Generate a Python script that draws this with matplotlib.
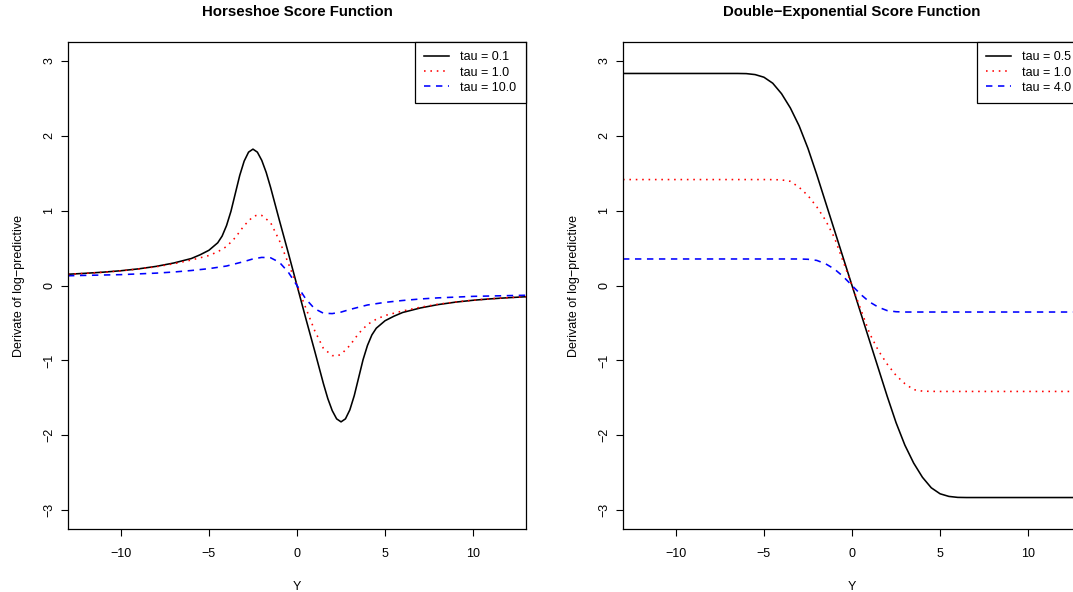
import matplotlib
matplotlib.use("Agg")
import matplotlib.pyplot as plt

plt.rcParams['font.family'] = ['Liberation Sans', 'DejaVu Sans']

# Horseshoe score function
hs_x_01 = [-13, -12, -11, -10, -9, -8, -7, -6, -5.5, -5, -4.5, -4.25, -4, -3.75, -3.5,
           -3.25, -3, -2.75, -2.5, -2.25, -2, -1.75, -1.5, -1, -0.5, 0, 0.5, 1, 1.5, 1.75,
           2, 2.25, 2.5, 2.75, 3, 3.25, 3.5, 3.75, 4, 4.25, 4.5, 5, 5.5, 6, 7, 8, 9, 10,
           11, 12, 13]
hs_y_01 = [0.15, 0.163, 0.178, 0.197, 0.222, 0.255, 0.30, 0.36, 0.41, 0.47, 0.57, 0.66,
           0.80, 0.99, 1.23, 1.47, 1.66, 1.78, 1.82, 1.78, 1.67, 1.51, 1.31, 0.87, 0.44,
           0.0, -0.44, -0.87, -1.31, -1.51, -1.67, -1.78, -1.82, -1.78, -1.66, -1.47,
           -1.23, -0.99, -0.80, -0.66, -0.57, -0.47, -0.41, -0.36, -0.30, -0.255, -0.222,
           -0.197, -0.178, -0.163, -0.15]

hs_x_1 = [-13, -12, -11, -10, -9, -8, -7, -6, -5, -4.5, -4, -3.5, -3, -2.5, -2.25, -2,
          -1.5, -1, -0.5, 0, 0.5, 1, 1.5, 2, 2.25, 2.5, 3, 3.5, 4, 4.5, 5, 6, 7, 8, 9,
          10, 11, 12, 13]
hs_y_1 = [0.15, 0.162, 0.177, 0.196, 0.22, 0.25, 0.29, 0.34, 0.40, 0.45, 0.52, 0.64,
          0.80, 0.92, 0.94, 0.935, 0.84, 0.60, 0.30, 0.0, -0.30, -0.60, -0.84, -0.935,
          -0.94, -0.92, -0.80, -0.64, -0.52, -0.45, -0.40, -0.34, -0.29, -0.25, -0.22,
          -0.196, -0.177, -0.162, -0.15]

hs_x_10 = [-13, -12, -11, -10, -9, -8, -7, -6, -5, -4, -3, -2.5, -2, -1.5, -1, -0.5, 0,
           0.5, 1, 1.5, 2, 2.5, 3, 4, 5, 6, 7, 8, 9, 10, 11, 12, 13]
hs_y_10 = [0.13, 0.135, 0.14, 0.145, 0.155, 0.165, 0.18, 0.20, 0.225, 0.26, 0.32, 0.355,
           0.375, 0.37, 0.31, 0.18, 0.0, -0.18, -0.31, -0.37, -0.375, -0.355, -0.32,
           -0.26, -0.225, -0.20, -0.18, -0.165, -0.155, -0.145, -0.14, -0.135, -0.13]

# Double-exponential score function
de_x_05 = [-13, -10, -8, -6.5, -6, -5.5, -5, -4.5, -4, -3.5, -3, -2.5, -2, -1.5, -1, -0.5,
           0, 0.5, 1, 1.5, 2, 2.5, 3, 3.5, 4, 4.5, 5, 5.5, 6, 6.5, 8, 10, 13]
de_y_05 = [2.83, 2.83, 2.83, 2.83, 2.828, 2.815, 2.78, 2.70, 2.56, 2.37, 2.13, 1.83, 1.48,
           1.11, 0.74, 0.37, 0.0, -0.37, -0.74, -1.11, -1.48, -1.83, -2.13, -2.37, -2.56,
           -2.70, -2.78, -2.815, -2.828, -2.83, -2.83, -2.83, -2.83]

de_x_1 = [-13, -10, -7, -5, -4.5, -4, -3.5, -3, -2.5, -2, -1.5, -1, -0.5, 0, 0.5, 1, 1.5,
          2, 2.5, 3, 3.5, 4, 4.5, 5, 7, 10, 13]
de_y_1 = [1.414, 1.414, 1.414, 1.414, 1.413, 1.41, 1.39, 1.31, 1.20, 1.05, 0.87, 0.64,
          0.32, 0.0, -0.32, -0.64, -0.87, -1.05, -1.20, -1.31, -1.39, -1.41, -1.413,
          -1.414, -1.414, -1.414, -1.414]

de_x_4 = [-13, -10, -6, -3, -2.5, -2, -1.5, -1, -0.5, 0, 0.5, 1, 1.5, 2, 2.5, 3, 6, 10, 13]
de_y_4 = [0.354, 0.354, 0.354, 0.354, 0.35, 0.335, 0.29, 0.22, 0.12, 0.0, -0.12, -0.22,
          -0.29, -0.335, -0.35, -0.354, -0.354, -0.354, -0.354]

xticks = [-10, -5, 0, 5, 10]
yticks = [-3, -2, -1, 0, 1, 2, 3]

fig = plt.figure(figsize=(10.73, 5.92), dpi=100)
W, H = 1073, 592
ax1 = fig.add_axes([68 / W, 63 / H, 458 / W, 487 / H])
ax2 = fig.add_axes([623 / W, 63 / H, 458 / W, 487 / H])

solid = '-'
dotted = (0, (1, 3))
dashed = (0, (4, 3.5))

panels = [
    (ax1, "Horseshoe Score Function",
     [(hs_x_01, hs_y_01, 'black', solid, "tau = 0.1"),
      (hs_x_1, hs_y_1, 'red', dotted, "tau = 1.0"),
      (hs_x_10, hs_y_10, 'blue', dashed, "tau = 10.0")]),
    (ax2, "Double\u2212Exponential Score Function",
     [(de_x_05, de_y_05, 'black', solid, "tau = 0.5"),
      (de_x_1, de_y_1, 'red', dotted, "tau = 1.0"),
      (de_x_4, de_y_4, 'blue', dashed, "tau = 4.0")]),
]

for ax, title, curves in panels:
    for xs, ys, col, ls, lab in curves:
        ax.plot(xs, ys, color=col, linestyle=ls, linewidth=1.15, label=lab)
    ax.set_xlim(-13, 13)
    ax.set_ylim(-3.25, 3.25)
    ax.set_xticks(xticks)
    ax.set_yticks(yticks)
    ax.tick_params(direction='out', length=5, width=0.8, labelsize=9, colors='black')
    ax.tick_params(axis='x', pad=9)
    ax.tick_params(axis='y', pad=4, labelrotation=90)
    for t in ax.get_yticklabels():
        t.set_va('center')
    for s in ax.spines.values():
        s.set_linewidth(0.9)
        s.set_color('black')
    ax.set_title(title, fontsize=10.8, fontweight='bold', pad=19)
    ax.set_xlabel("Y", fontsize=9, labelpad=15)
    ax.set_ylabel("Derivate of log\u2212predictive", fontsize=9, labelpad=13)
    leg = ax.legend(loc='upper right', borderaxespad=0, fancybox=False, frameon=True,
                    edgecolor='black', framealpha=1, fontsize=9, handlelength=2.0,
                    handletextpad=0.9, borderpad=0.75, labelspacing=0.25)
    leg.get_frame().set_linewidth(0.9)

fig.savefig("out.png", dpi=100)
